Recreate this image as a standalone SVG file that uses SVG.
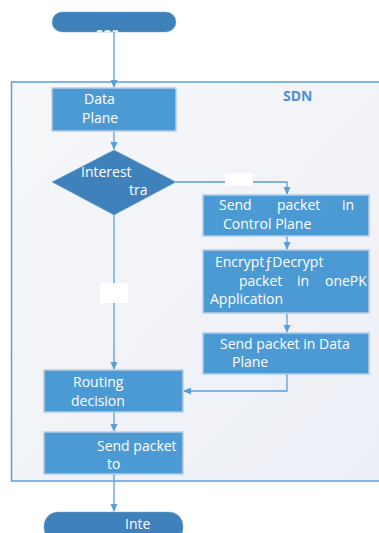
<svg xmlns="http://www.w3.org/2000/svg" width="379" height="533" viewBox="0 0 379 533">
<style>
.box{fill:#4c9ad4;stroke:#b4cde8;stroke-width:1.5}
.dk{fill:#3f82bb;stroke:#7aa9d6;stroke-width:0.5}
.t{font-family:"Open Sans","Liberation Sans",sans-serif;font-size:14px;fill:#ffffff}
.ln{fill:none;stroke:#5b9fd8;stroke-width:1.3}
.mask{fill:#ffffff}
</style>
<defs>
<linearGradient id="bg" x1="0" y1="0" x2="1" y2="1">
<stop offset="0" stop-color="#f6f7f9"/>
<stop offset="1" stop-color="#eceff6"/>
</linearGradient>
<marker id="ah" markerWidth="8" markerHeight="8" refX="7" refY="4" orient="auto" markerUnits="userSpaceOnUse">
<path d="M0,0.5 L8,4 L0,7.5 Z" fill="#5b9fd8"/>
</marker>
<clipPath id="c1"><rect x="52" y="12" width="124" height="20" rx="10"/></clipPath>
</defs>
<rect width="379" height="533" fill="#ffffff"/>
<g id="frame">
<rect x="11.5" y="82" width="380" height="399" fill="url(#bg)" stroke="#5b9fd8" stroke-width="1.5"/>
<text x="283" y="101" font-family="'Open Sans','Liberation Sans',sans-serif" font-size="14" font-weight="bold" fill="#4a90d0">SDN</text>
</g>
<g id="connectors">
<path class="ln" d="M114,32 V87" marker-end="url(#ah)"/>
<path class="ln" d="M114,131 V149" marker-end="url(#ah)"/>
<path class="ln" d="M176,182 H287 V194" marker-end="url(#ah)"/>
<rect class="mask" x="225" y="173" width="28" height="13"/>
<path class="ln" d="M287,236 V249" marker-end="url(#ah)"/>
<path class="ln" d="M287,313 V332" marker-end="url(#ah)"/>
<path class="ln" d="M287,374 V391 H184" marker-end="url(#ah)"/>
<path class="ln" d="M114,215 V369" marker-end="url(#ah)"/>
<rect class="mask" x="100" y="283" width="28" height="20"/>
<path class="ln" d="M114,412 V431" marker-end="url(#ah)"/>
<path class="ln" d="M114,474 V511" marker-end="url(#ah)"/>
</g>
<g id="start">
<rect class="dk" x="52" y="12" width="124" height="20" rx="10"/>
<text class="t" x="96" y="38" clip-path="url(#c1)" font-weight="bold" font-size="16">sor</text>
</g>
<g id="dataplane">
<rect class="box" x="52" y="88" width="124" height="43"/>
<text class="t" x="84" y="104">Data</text>
<text class="t" x="82" y="123">Plane</text>
</g>
<g id="decision">
<polygon class="dk" points="114,150 176,182 114,215 52,182"/>
<text class="t" x="81" y="177">Interest</text>
<text class="t" x="129" y="195">tra</text>
</g>
<g id="sendcontrol">
<rect class="box" x="203" y="195" width="166" height="41"/>
<text class="t" x="219" y="210">Send</text>
<text class="t" x="277" y="210">packet</text>
<text class="t" x="342" y="210">in</text>
<text class="t" x="223" y="229">Control Plane</text>
</g>
<g id="encrypt">
<rect class="box" x="203" y="250" width="166" height="63"/>
<text class="t" x="215" y="267">EncryptƒDecrypt</text>
<text class="t" x="239" y="286">packet</text>
<text class="t" x="297" y="286">in</text>
<text class="t" x="325" y="286">onePK</text>
<text class="t" x="210" y="304">Application</text>
</g>
<g id="senddata">
<rect class="box" x="203" y="333" width="166" height="41"/>
<text class="t" x="220" y="349">Send packet in Data</text>
<text class="t" x="232" y="367">Plane</text>
</g>
<g id="routing">
<rect class="box" x="44" y="370" width="139" height="42"/>
<text class="t" x="73" y="387">Routing</text>
<text class="t" x="71" y="406">decision</text>
</g>
<g id="sendto">
<rect class="box" x="44" y="432" width="139" height="42"/>
<text class="t" x="97" y="451">Send packet</text>
<text class="t" x="107" y="469">to</text>
</g>
<g id="end">
<rect class="dk" x="44" y="512" width="139" height="30" rx="14"/>
<text class="t" x="125" y="529" font-size="13">Inte</text>
</g>
</svg>
